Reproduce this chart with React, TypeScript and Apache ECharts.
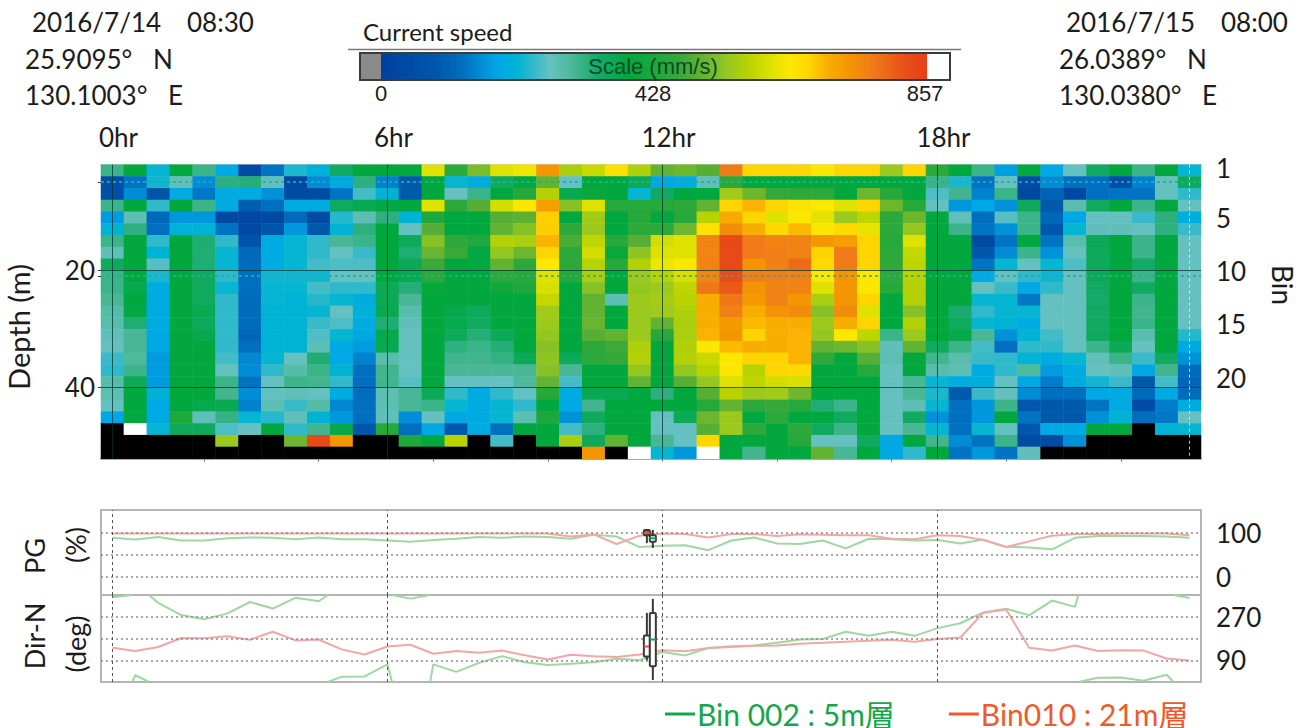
import React, { useEffect, useRef } from "react";
import * as echarts from "echarts";

const NO_DATA = -1;
const OVER = 900;

// Current speed (mm/s), one list per depth cell, top to bottom; -1 = no data, 900 = over range
const row01 = [310,390,215,390,310,185,40,130,225,205,345,390,390,390,610,450,520,610,625,730,560,590,655,565,500,510,490,770,670,670,670,640,670,670,545,670,450,390,310,175,390,185,265,345,390,310,390,215];
const row02 = [50,130,220,270,155,320,325,270,35,155,185,320,145,90,390,215,190,350,380,500,260,390,385,360,180,190,270,450,390,390,390,390,390,390,390,385,310,225,130,265,40,155,125,125,50,145,265,350];
const row03 = [60,155,75,190,135,190,190,160,40,40,130,245,210,90,390,265,310,385,440,570,365,400,390,215,345,385,385,550,510,460,450,450,390,510,440,390,250,305,145,310,35,105,30,125,130,130,265,235];
const row04 = [310,390,235,390,310,190,95,125,190,190,350,365,380,385,610,450,490,600,640,720,530,610,440,440,440,450,500,670,695,670,645,640,610,670,510,440,265,165,185,160,355,90,280,350,390,310,385,265];
const row05 = [170,275,115,165,165,35,30,35,115,40,230,275,320,210,430,385,390,490,495,675,385,550,385,440,385,440,575,705,670,610,640,615,545,580,450,510,385,270,125,255,310,110,185,265,265,240,320,195];
const row06 = [210,320,125,210,210,130,30,75,165,85,210,320,385,265,490,385,390,500,530,675,450,545,385,450,450,510,650,745,700,665,690,640,665,620,450,540,385,310,130,160,310,85,215,270,270,265,320,240];
const row07 = [310,390,235,390,330,235,70,190,215,235,300,310,390,355,530,450,430,570,560,695,480,580,440,490,600,610,760,830,770,760,760,730,720,670,440,610,390,390,35,130,390,130,280,360,390,310,385,265];
const row08 = [270,390,210,390,330,215,115,190,215,235,265,240,390,330,505,465,380,540,510,670,450,600,400,535,610,610,755,830,770,765,760,670,770,670,450,585,390,390,85,155,310,160,265,355,390,310,390,265];
const row09 = [350,390,255,390,330,215,120,190,215,245,250,250,390,360,470,390,385,500,450,640,450,575,440,570,625,640,760,830,735,765,790,665,770,670,455,580,390,385,130,215,265,215,250,355,390,340,390,265];
const row10 = [310,390,225,390,350,235,125,220,220,220,260,265,390,365,450,390,385,450,440,610,440,560,390,545,575,605,755,825,765,765,760,640,730,640,450,575,390,390,185,260,235,220,265,360,390,310,390,265];
const row11 = [310,370,195,390,350,215,125,215,215,245,235,235,360,325,400,390,390,410,430,605,385,530,390,540,545,580,775,810,735,760,760,610,730,640,440,570,390,390,265,240,185,235,265,345,390,345,390,265];
const row12 = [300,385,190,390,350,235,120,215,210,230,215,195,360,300,390,390,390,385,390,585,390,500,275,545,555,575,700,775,725,760,730,560,730,670,390,570,390,390,215,215,135,265,265,340,390,310,385,265];
const row13 = [285,380,190,390,365,235,120,210,210,215,265,205,365,280,390,370,355,390,390,550,390,500,390,545,550,565,700,765,700,735,745,530,745,610,390,530,390,335,235,215,215,265,265,345,390,305,390,265];
const row14 = [280,330,190,390,355,235,120,210,210,240,250,190,330,270,390,370,350,385,390,545,390,505,390,545,500,560,700,725,690,700,700,545,700,670,390,570,390,350,215,210,190,265,265,345,390,310,385,265];
const row15 = [270,300,185,390,370,235,110,210,210,250,215,185,370,265,390,355,325,360,390,540,390,490,500,545,440,560,695,730,670,700,695,540,640,580,310,545,390,370,300,160,210,245,265,350,390,280,390,230];
const row16 = [265,300,185,390,390,235,125,210,210,275,185,170,365,265,390,320,310,325,390,530,390,450,470,565,390,565,640,690,700,700,695,500,510,530,270,500,350,310,245,125,235,235,265,310,360,265,385,185];
const row17 = [240,295,170,390,390,245,150,215,265,330,185,145,280,265,390,305,305,315,360,535,355,450,460,570,390,570,590,640,670,670,695,450,390,490,275,385,305,280,240,235,210,190,215,270,310,240,345,160];
const row18 = [235,310,170,390,390,265,155,235,285,310,210,125,305,265,390,300,300,300,300,530,300,390,390,540,390,540,575,640,575,670,665,390,385,440,265,390,280,275,190,235,295,170,190,265,270,185,305,120];
const row19 = [285,360,170,390,390,310,130,265,310,305,235,125,305,255,390,260,260,265,295,500,245,390,390,500,390,490,540,610,580,600,605,390,390,390,265,300,215,195,195,265,185,140,190,220,240,90,245,110];
const row20 = [275,385,205,390,390,305,155,265,270,265,190,120,275,300,360,235,190,235,260,440,190,365,365,385,320,385,490,575,545,550,510,385,390,385,265,300,225,90,240,265,155,125,125,185,190,115,190,120];
const row21 = [265,385,185,385,370,365,145,275,240,285,150,125,275,300,310,215,190,215,235,385,185,305,385,390,390,385,440,500,450,460,440,330,310,385,265,275,215,125,165,310,85,85,90,130,190,40,140,190];
const row22 = [180,390,185,430,270,315,215,230,270,210,165,125,270,155,265,185,190,215,275,425,160,350,390,390,265,360,510,545,385,450,390,385,350,390,265,345,160,125,165,390,130,90,85,160,210,125,135,265];
const row23 = [-1,900,215,355,355,250,265,390,235,305,375,80,440,125,185,85,190,125,390,390,245,320,390,390,265,265,490,545,450,390,450,350,310,390,265,300,215,125,215,265,85,185,185,390,390,-1,210,215];
const row24 = [-1,-1,-1,-1,-1,545,-1,-1,510,830,730,-1,-1,430,385,575,-1,245,-1,390,560,355,500,390,300,265,670,390,390,390,440,265,265,350,185,385,305,155,130,310,40,45,160,-1,-1,-1,-1,-1];
const row25 = [-1,-1,-1,-1,-1,-1,-1,-1,-1,-1,-1,-1,-1,-1,-1,-1,-1,-1,-1,-1,-1,730,-1,900,215,165,900,390,305,390,385,500,300,385,185,235,390,130,165,130,270,-1,-1,-1,-1,-1,-1,-1];
const speedRows = [row01,row02,row03,row04,row05,row06,row07,row08,row09,row10,row11,row12,row13,row14,row15,row16,row17,row18,row19,row20,row21,row22,row23,row24,row25];

const columns = row01.map((_, i) => String(i));
const rowNames = speedRows.map((_, i) => String(i + 1));

const scaleValues = [0,90,130,160,185,215,240,265,300,340,390,470,510,545,580,610,640,670,700,730,770,830,857];
const scaleColors = ["#003f9e","#0058ab","#0070c0","#0090d8","#00a8e6","#00b4d2","#35b9c9","#66c2c2","#4cb898","#15aa6a","#00a83e","#3aa83a","#6cb530","#98c820","#bcd400","#dce000","#fbe800","#ffd800","#f8b000","#f49800","#f07d18","#e84a18","#e84016"];

const pgBin002 = [89,85,91,83,83,88,90,89,86,90,86,86,83,80,84,87,91,89,92,91,87,96,92,68,71,72,61,83,90,76,75,83,65,87,86,83,84,76,85,69,67,63,89,93,93,93,92,89];
const pgBin010 = [99,99,99,99,99,99,99,99,99,99,99,99,99,99,99,99,99,99,99,99,92,97,75,94,99,98,90,98,98,93,97,96,95,95,87,86,95,93,84,68,81,94,98,98,99,99,99,95];
const dirBin002 = [351,28,327,277,260,283,331,304,349,334,22,23,73,345,73,42,79,107,82,70,76,82,96,90,124,110,141,148,151,162,176,178,208,191,208,191,223,243,288,303,276,337,311,18,19,5,30,348];
const dirBin010 = [142,128,145,182,181,189,175,208,172,176,135,114,147,154,117,128,121,130,111,93,113,107,103,114,131,127,141,145,150,151,158,162,167,171,175,167,178,184,287,300,142,130,151,128,131,130,97,89];
// Where the Bin 002 bearing crosses north: index of the later sample, and how far along the step it happens
const northCrossIndex = [1,2,10,13,14,43,47];
const northCrossAt = [0.86,0.6,0.4,0.2,0.86,0.15,0.3];

// Cursor candles: [time index, low, box low, median, box high, high]
const pgCursor = [[23.32,77,95,100,107,108],[23.58,66,80,88,95,107]];
const dirCursor = [[23.32,90,106,147,192,286],[23.58,8,65,176,286,344]];

const hourLines = [0,12,24,36];
const depthTicks = [5,20,21,40];
const pgGuides = [0,50,100];
const dirGuides = [90,180,270];

const FONT = 'Lato, "Noto Sans", sans-serif';
const CJK = 'Lato, "Noto Sans CJK JP", sans-serif';
const NUM = '"Liberation Sans Narrow", "Liberation Sans", sans-serif';
const GREEN = "Bin 002 : 5m層";
const RED = "Bin010 : 21m層";

function hex(c: string) { return [1,3,5].map((i) => parseInt(c.slice(i, i + 2), 16)); }
function colorOf(v: number) {
  let k = 0;
  while (k < scaleValues.length - 2 && v > scaleValues[k + 1]) k++;
  const t = Math.min(1, Math.max(0, (v - scaleValues[k]) / (scaleValues[k + 1] - scaleValues[k])));
  const a = hex(scaleColors[k]), b = hex(scaleColors[k + 1]);
  return `rgb(${a.map((x, i) => Math.round(x + (b[i] - x) * t)).join(",")})`;
}

// A bearing that crosses north leaves through one edge of the panel and comes back through the other
function wrapped(values: number[]) {
  const out: any[] = [];
  values.forEach((v, i) => {
    const c = northCrossIndex.indexOf(i);
    if (c >= 0) {
      const x = i - 1 + northCrossAt[c];
      const rising = v < values[i - 1];
      out.push([x, rising ? 360 : 0], [x, null], [x, rising ? 0 : 360]);
    }
    out.push([i, v]);
  });
  return out;
}

const cursorItem = (redFill: string) => (_p: any, api: any) => {
  const x = api.value(0);
  const at = (k: number) => api.coord([x, api.value(k)]);
  const lo = at(1), q1 = at(2), med = at(3), q3 = at(4), hi = at(5);
  const stroke = { stroke: "#3a3a3a", lineWidth: 2 };
  const isRed = x < 23.5;
  return {
    type: "group",
    children: [
      { type: "line", shape: { x1: lo[0], y1: lo[1], x2: hi[0], y2: hi[1] }, style: stroke },
      { type: "rect", shape: { x: q3[0] - 3, y: q3[1], width: 6, height: q1[1] - q3[1], r: 1 }, style: { fill: isRed ? redFill : "#fff", ...stroke } },
      { type: "line", shape: { x1: med[0] - 3, y1: med[1], x2: med[0] + 3, y2: med[1] }, style: { stroke: isRed ? "#e8503a" : "#12a84a", lineWidth: 2 } },
    ],
  };
};

const guide = (data: any[], color: string, type: any, width = 1) => ({
  silent: true, symbol: "none", animation: false, label: { show: false },
  lineStyle: { color, type, width }, data,
});

function txt(text: string, x: number, y: number, fontSize: number, extra: any = {}, rotation = 0) {
  const { fill = "#1c1c1c", align = "left", fontFamily = FONT } = extra;
  return { type: "text", x, y, rotation, z: 50, style: { text, fontSize, fontFamily, fill, align, verticalAlign: "middle" } };
}

export default function App() {
  const ref = useRef<HTMLDivElement>(null);
  useEffect(() => {
    const chart = echarts.init(ref.current!, null, { renderer: "svg" });
    const barStops = scaleValues.map((v, i) => ({ offset: v / 857, color: scaleColors[i] }));
    const speedPieces: any[] = [{ value: NO_DATA, color: "#000000" }, { value: OVER, color: "#ffffff" }];
    for (let v = 0; v < 857; v += 5) speedPieces.push({ gte: v, lt: v + 5, color: colorOf(v + 2.5) });
    const hiddenValueX = (gridIndex: number) => ({ type: "value", gridIndex, min: -0.5, max: 47.5, show: false });
    const panelY = (gridIndex: number, min: number, max: number, labels: number[], padding: number[]) => ({
      type: "value", gridIndex, min, max, position: "right", scale: false,
      axisLine: { show: false }, axisTick: { show: false }, splitLine: { show: false },
      axisLabel: { customValues: labels, margin: 15, fontSize: 26, color: "#1c1c1c", fontFamily: FONT, padding },
    });
    const paleLine = (name: string, color: string, x: number, y: number, data: any[]) => ({
      name, type: "line", xAxisIndex: x, yAxisIndex: y, data, showSymbol: false, symbol: "none",
      lineStyle: { color, width: 2 }, itemStyle: { color }, clip: true, z: 4,
    });
    chart.setOption({
      animation: false,
      backgroundColor: "#fff",
      visualMap: { type: "piecewise", show: false, seriesIndex: 0, dimension: 2, pieces: speedPieces },
      grid: [
        { left: 101, top: 164.7, width: 1100, height: 294, show: false, outerBoundsMode: "none" },
        { left: 101, top: 510, width: 1100, height: 85, show: true, borderColor: "#b4b4b4", borderWidth: 2, backgroundColor: "#fff", outerBoundsMode: "none" },
        { left: 101, top: 595, width: 1100, height: 87, show: true, borderColor: "#b4b4b4", borderWidth: 2, backgroundColor: "#fff", outerBoundsMode: "none" },
      ],
      xAxis: [
        { type: "category", gridIndex: 0, data: columns, position: "bottom",
          axisLine: { show: true, onZero: false, lineStyle: { color: "#a8a8a8", width: 2 } },
          axisTick: { show: true, alignWithLabel: true, interval: (i: number) => i % 5 === 4, length: 3, lineStyle: { color: "#777" } },
          axisLabel: { show: false }, splitLine: { show: false } },
        { type: "category", gridIndex: 0, data: columns, position: "top",
          axisLine: { show: true, onZero: false, lineStyle: { color: "#d4d4d4", width: 2 } },
          axisTick: { show: false },
          axisLabel: { show: true, interval: (i: number) => i % 12 === 0, formatter: (_v: string, i: number) => `${i / 2}hr`,
            margin: 15, fontSize: 26, color: "#1c1c1c", fontFamily: FONT, padding: [0, 0, 0, 12] } },
        hiddenValueX(0),
        hiddenValueX(1),
        hiddenValueX(2),
      ],
      yAxis: [
        { type: "category", gridIndex: 0, data: rowNames, inverse: true, show: false },
        { type: "value", gridIndex: 0, min: 2.05, max: 52.2, inverse: true, position: "left",
          axisLine: { show: false }, splitLine: { show: false },
          axisTick: { show: true, customValues: depthTicks, length: 3, lineStyle: { color: "#333" } },
          axisLabel: { customValues: [20, 40], margin: 6, fontSize: 26, color: "#1c1c1c", fontFamily: FONT } },
        panelY(1, -40.9, 152.3, [0, 100], [0, 0, 5, 0]),
        panelY(2, 0, 360, [90, 270], [7, 0, 0, 0]),
      ],
      legend: {
        left: 660, top: 694, itemWidth: 30, itemHeight: 3, itemGap: 54,
        textStyle: { fontSize: 30, fontFamily: CJK, padding: [0, 0, 0, -3] },
        data: [
          { name: GREEN, icon: "rect", itemStyle: { color: "#12a84a" }, textStyle: { color: "#12a84a" } },
          { name: RED, icon: "rect", itemStyle: { color: "#ee5a2a" }, textStyle: { color: "#ee5a2a" } },
        ],
      },
      series: [
        { type: "heatmap", xAxisIndex: 0, yAxisIndex: 0, progressive: 0, z: 2,
          data: speedRows.flatMap((row, r) => row.map((v, c) => [c, r, v])) },
        { type: "line", xAxisIndex: 2, yAxisIndex: 1, data: [], z: 5,
          markLine: guide([...hourLines.map((x) => ({ xAxis: x })), { yAxis: 20 }, { yAxis: 40 }], "rgba(0,50,45,0.72)", "solid") },
        { type: "line", xAxisIndex: 2, yAxisIndex: 1, data: [], z: 5,
          markLine: guide([{ yAxis: 5 }, { yAxis: 21 }], "rgba(40,170,165,0.85)", [3, 3], 2) },
        { type: "line", xAxisIndex: 2, yAxisIndex: 1, data: [], z: 5,
          markLine: guide([{ xAxis: 47 }], "rgba(230,230,230,0.85)", [3, 3]) },

        { type: "line", xAxisIndex: 3, yAxisIndex: 2, data: [], z: 2,
          markLine: guide(pgGuides.map((y) => ({ yAxis: y })), "#8c8c8c", [2, 3], 1.5) },
        { type: "line", xAxisIndex: 3, yAxisIndex: 2, data: [], z: 2,
          markLine: guide(hourLines.map((x) => ({ xAxis: x })), "#555", [3, 3]) },
        paleLine(GREEN, "#9ed8a0", 3, 2, pgBin002.map((v, i) => [i, v])),
        paleLine(RED, "#f4a6a6", 3, 2, pgBin010.map((v, i) => [i, v])),
        { type: "custom", xAxisIndex: 3, yAxisIndex: 2, data: pgCursor, renderItem: cursorItem("#e8503a"), z: 6, encode: { x: 0, y: [1, 2, 3, 4, 5] } },

        { type: "line", xAxisIndex: 4, yAxisIndex: 3, data: [], z: 2,
          markLine: guide(dirGuides.map((y) => ({ yAxis: y })), "#8c8c8c", [2, 3], 1.5) },
        { type: "line", xAxisIndex: 4, yAxisIndex: 3, data: [], z: 2,
          markLine: guide(hourLines.map((x) => ({ xAxis: x })), "#555", [3, 3]) },
        paleLine(GREEN, "#9ed8a0", 4, 3, wrapped(dirBin002)),
        paleLine(RED, "#f4a6a6", 4, 3, dirBin010.map((v, i) => [i, v])),
        { type: "custom", xAxisIndex: 4, yAxisIndex: 3, data: dirCursor, renderItem: cursorItem("#fff"), z: 6, clip: false, encode: { x: 0, y: [1, 2, 3, 4, 5] } },
      ],
      graphic: [
        txt("2016/7/14", 32, 22, 26),
        txt("08:30", 187, 22, 26),
        txt("25.9095°", 25, 59, 26),
        txt("N", 153, 59, 26),
        txt("130.1003°", 25, 95, 26),
        txt("E", 168, 95, 26),
        txt("2016/7/15", 1066, 22, 26),
        txt("08:00", 1221, 22, 26),
        txt("26.0389°", 1059, 59, 26),
        txt("N", 1187, 59, 26),
        txt("130.0380°", 1059, 95, 26),
        txt("E", 1202, 95, 26),
        txt("Current speed", 363, 31, 24),
        { type: "line", shape: { x1: 348, y1: 49.5, x2: 961, y2: 49.5 }, style: { stroke: "#777", lineWidth: 1.5 } },
        { type: "rect", shape: { x: 360, y: 53, width: 590, height: 27 }, style: { fill: "#fff", stroke: "#3a3a3a", lineWidth: 2 } },
        { type: "rect", shape: { x: 361, y: 54, width: 20, height: 25 }, style: { fill: "#8a8a8a" } },
        { type: "rect", shape: { x: 381, y: 54, width: 546, height: 25 }, style: { fill: new echarts.graphic.LinearGradient(0, 0, 1, 0, barStops) } },
        txt("Scale (mm/s)", 653, 66, 22, { align: "center", fill: "#0a4a28", fontFamily: NUM }),
        txt("0", 381, 93, 22, { align: "center", fontFamily: NUM }),
        txt("428", 653, 93, 22, { align: "center", fontFamily: NUM }),
        txt("857", 925, 93, 22, { align: "center", fontFamily: NUM }),
        txt("1", 1216, 168, 26),
        txt("5", 1216, 218, 26),
        txt("10", 1216, 271, 26),
        txt("15", 1216, 324, 26),
        txt("20", 1216, 378, 26),
        txt("Depth (m)", 18, 327, 29, { align: "center" }, Math.PI / 2),
        txt("Bin", 1283, 285, 28, { align: "center" }, -Math.PI / 2),
        txt("PG", 34, 556, 27, { align: "center" }, Math.PI / 2),
        txt("(%)", 75, 545, 27, { align: "center" }, Math.PI / 2),
        txt("Dir-N", 34, 636, 27, { align: "center" }, Math.PI / 2),
        txt("(deg)", 75, 644, 27, { align: "center" }, Math.PI / 2),
      ],
    });
    return () => chart.dispose();
  }, []);
  return <div ref={ref} style={{ position: "fixed", left: 0, top: 0, width: 1306, height: 728, background: "#fff" }} />;
}
